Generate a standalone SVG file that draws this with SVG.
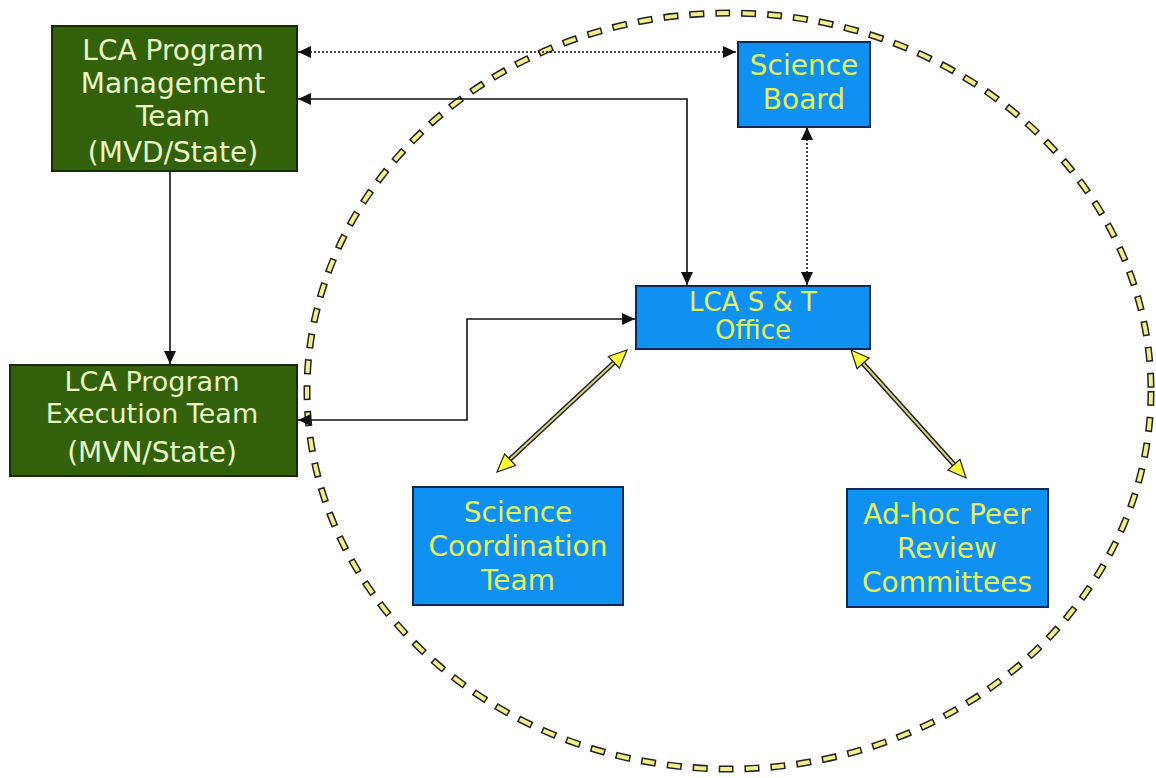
<svg xmlns="http://www.w3.org/2000/svg" width="1156" height="778" viewBox="0 0 1156 778">
<style>
.green{fill:#33600a;stroke:#1a2a08;stroke-width:2}
.blue{fill:#1090f0;stroke:#0a2a55;stroke-width:2}
.gt{font-family:"DejaVu Sans",Verdana,sans-serif;font-size:28px;fill:#e8f7c4;text-anchor:middle}
.bt{font-family:"DejaVu Sans",Verdana,sans-serif;font-size:28px;fill:#e2f060;text-anchor:middle}
.solid{fill:none;stroke:#111;stroke-width:1.6}
.dot{fill:none;stroke:#111;stroke-width:1.6;stroke-dasharray:2 2}
.yout{fill:none;stroke:#222;stroke-width:5}
.yin{fill:none;stroke:#d8d48a;stroke-width:2}
</style>
<defs>
<marker id="ah" markerUnits="userSpaceOnUse" markerWidth="14" markerHeight="12" refX="13" refY="6" orient="auto-start-reverse">
<path d="M0,0 L13,6 L0,12 z" fill="#111"/>
</marker>
<marker id="yh" markerUnits="userSpaceOnUse" markerWidth="22" markerHeight="18" refX="19" refY="9" orient="auto-start-reverse">
<path d="M1,1 L19,9 L1,17 z" fill="#ffff33" stroke="#222" stroke-width="1.2"/>
</marker>
</defs>
<rect width="1156" height="778" fill="#fff"/>
<g id="boundary">
<ellipse cx="729" cy="391" rx="422" ry="378" fill="none" stroke="#222" stroke-width="7" stroke-dasharray="15 11"/>
<ellipse cx="729" cy="391" rx="422" ry="378" fill="none" stroke="#f2ee8c" stroke-width="4" stroke-dasharray="12 14" stroke-dashoffset="-1.5"/>
</g>
<g id="connectors">
<path class="dot" d="M298,52 L736,52" marker-start="url(#ah)" marker-end="url(#ah)"/>
<path class="solid" d="M298,99 L687,99 L687,285" marker-start="url(#ah)" marker-end="url(#ah)"/>
<path class="dot" d="M807,127 L807,285" marker-start="url(#ah)" marker-end="url(#ah)"/>
<path class="solid" d="M170,172 L170,364" marker-end="url(#ah)"/>
<path class="solid" d="M298,420 L467,420 L467,319 L635,319" marker-start="url(#ah)" marker-end="url(#ah)"/>
<path class="yout" d="M619,358 L505,464"/>
<path class="yin" d="M619,358 L505,464"/>
<path d="M627,350 L497,472" fill="none" stroke="none" marker-start="url(#yh)" marker-end="url(#yh)"/>
<path class="yout" d="M859,359 L958,469"/>
<path class="yin" d="M859,359 L958,469"/>
<path d="M851,350 L966,478" fill="none" stroke="none" marker-start="url(#yh)" marker-end="url(#yh)"/>
</g>
<g id="mgmt">
<rect class="green" x="52" y="26" width="245" height="145"/>
<text class="gt" x="173" y="60">LCA Program</text>
<text class="gt" x="173" y="93">Management</text>
<text class="gt" x="173" y="126">Team</text>
<text class="gt" x="173" y="162">(MVD/State)</text>
</g>
<g id="exec">
<rect class="green" x="10" y="365" width="287" height="111"/>
<text class="gt" x="152" y="391" style="font-size:27px">LCA Program</text>
<text class="gt" x="152" y="423" style="font-size:27px">Execution Team</text>
<text class="gt" x="152" y="462">(MVN/State)</text>
</g>
<g id="board">
<rect class="blue" x="738" y="42" width="132" height="85"/>
<text class="bt" x="804" y="75">Science</text>
<text class="bt" x="804" y="109">Board</text>
</g>
<g id="office">
<rect class="blue" x="636" y="286" width="234" height="63"/>
<text class="bt" x="753" y="311" style="font-size:26px">LCA S &amp; T</text>
<text class="bt" x="753" y="339" style="font-size:26px">Office</text>
</g>
<g id="sct">
<rect class="blue" x="413" y="487" width="210" height="118"/>
<text class="bt" x="518" y="522">Science</text>
<text class="bt" x="518" y="556">Coordination</text>
<text class="bt" x="518" y="590">Team</text>
</g>
<g id="adhoc">
<rect class="blue" x="847" y="489" width="201" height="118"/>
<text class="bt" x="947" y="524">Ad-hoc Peer</text>
<text class="bt" x="947" y="558">Review</text>
<text class="bt" x="947" y="592">Committees</text>
</g>
</svg>
